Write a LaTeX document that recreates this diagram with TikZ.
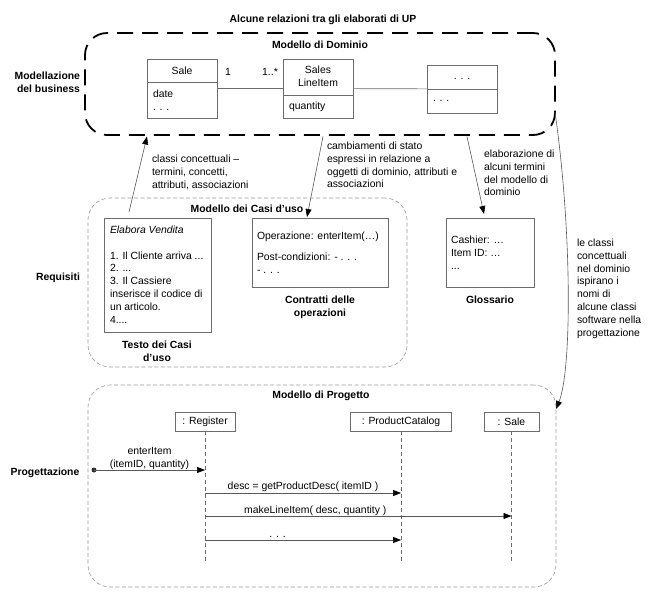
\documentclass[tikz,border=0pt]{standalone}
\usepackage{fontspec}
\setmainfont{Liberation Sans}
\usetikzlibrary{arrows.meta, positioning, calc}

\newcommand{\diagfont}{\fontsize{10.4}{12.8}\selectfont}

\begin{document}
\begin{tikzpicture}[
    x=1pt, y=-1pt,
    every node/.style={
        font=\diagfont,
        inner sep=0pt,
        outer sep=0pt
    },
    heading/.style={
        font=\diagfont\bfseries
    },
    domainframe/.style={
        draw=black,
        line width=1.8pt,
        dash pattern=on 16pt off 9pt,
        rounded corners=22pt
    },
    modelframe/.style={
        draw=gray!80,
        line width=0.6pt,
        dash pattern=on 4pt off 2.5pt,
        rounded corners=22pt
    },
    classbox/.style={
        draw=gray!85!black,
        line width=0.7pt
    },
    classline/.style={
        draw=gray!85!black,
        line width=0.7pt
    },
    docbox/.style={
        draw=gray!85!black,
        line width=0.7pt
    },
    objbox/.style={
        draw=gray!85!black,
        line width=0.7pt
    },
    assoc/.style={
        draw=gray!85!black,
        line width=0.7pt
    },
    lifeline/.style={
        draw=gray!85!black,
        line width=0.6pt,
        dash pattern=on 4pt off 3pt
    },
    flow/.style={
        draw=gray!70!black,
        line width=0.6pt,
        -{Triangle[length=8pt, width=6pt, color=black]}
    },
    message/.style={
        draw=gray!70!black,
        line width=0.7pt,
        -{Triangle[length=8pt, width=6pt, color=black]}
    }
]
\useasboundingbox (0,0) rectangle (649,598);

% Title
\node[heading] (title) at (323,20) {Alcune relazioni tra gli elaborati di UP};

% Domain model
\node[domainframe, minimum width=470pt, minimum height=102pt] (domain) at (320,84) {};
\node[heading] (domaintitle) at (320,45) {Modello di Dominio};
\node[heading, align=right, anchor=north east] (business) at (80,72) {Modellazione\\del business};

\node[classbox, minimum width=70pt, minimum height=59pt] (sale) at (182,88.5) {};
\draw[classline] ([yshift=-23pt]sale.north west) -- ([yshift=-23pt]sale.north east);
\node (salename) at (182,71) {Sale};
\node[align=left, anchor=north west] (saleattr) at (153,90) {date\\. . .};

\node[classbox, minimum width=70pt, minimum height=59pt] (lineitem) at (318,88.5) {};
\draw[classline] ([yshift=-36pt]lineitem.north west) -- ([yshift=-36pt]lineitem.north east);
\node[align=center, anchor=north] (lineitemname) at (318,66) {Sales\\LineItem};
\node[anchor=west] (lineitemattr) at (289,107) {quantity};

\node[classbox, minimum width=70pt, minimum height=48pt] (other) at (462,89) {};
\draw[classline] ([yshift=-24pt]other.north west) -- ([yshift=-24pt]other.north east);
\node (othername) at (462,78.5) {. . .};
\node[anchor=west] (otherattr) at (433,101) {. . .};

\draw[assoc] (sale) -- (lineitem);
\draw[assoc] (lineitem) -- (other);
\node (multone) at (228,72) {1};
\node (multmany) at (270,72) {1..*};

% Use case model
\node[modelframe, minimum width=319pt, minimum height=169pt] (usecases) at (247.5,282.5) {};
\node[heading] (usecasestitle) at (247,209) {Modello dei Casi d’uso};
\node[heading] (requirements) at (58,278) {Requisiti};

\node[docbox, minimum width=107pt, minimum height=114pt] (usetext) at (157.5,275) {};
\node[align=left, anchor=north west] (usetextbody) at (110,226) {\textit{Elabora Vendita}\\[12.8pt]1. Il Cliente arriva ...\\2. ...\\3. Il Cassiere\\inserisce il codice di\\un articolo.\\4....};
\node[heading, align=center, anchor=north] (usetextname) at (157,341) {Testo dei Casi\\d’uso};

\node[docbox, minimum width=136pt, minimum height=69pt] (contracts) at (320,252.5) {};
\node[align=left, anchor=north west] (contractsbody) at (257,232) {Operazione: enterItem(…)\\[8pt]Post-condizioni: - . . .\\- . . .};
\node[heading, align=center, anchor=north] (contractsname) at (320,296) {Contratti delle\\operazioni};

\node[docbox, minimum width=88pt, minimum height=69pt] (glossary) at (490,252.5) {};
\node[align=left, anchor=north west] (glossarybody) at (451,236) {Cashier: …\\Item ID: …\\...};
\node[heading] (glossaryname) at (490,300) {Glossario};

% Links between the artifacts
\draw[flow] ([xshift=-28.5pt, yshift=6pt]usetext.north) -- ([xshift=-173pt, yshift=-1.5pt]domain.south);
\node[align=left, anchor=north west] (conceptlabel) at (152,155) {classi concettuali –\\termini, concetti,\\attributi, associazioni};

\draw[flow] ([xshift=3pt, yshift=-1.5pt]domain.south) -- ([xshift=-13pt, yshift=1pt]contracts.north);
\node[align=left, anchor=north west] (changelabel) at (327,142) {cambiamenti di stato\\espressi in relazione a\\oggetti di dominio, attributi e\\associazioni};

\draw[flow] ([xshift=147pt, yshift=-1.5pt]domain.south) -- ([xshift=-6pt, yshift=4pt]glossary.north);
\node[align=left, anchor=north west] (termlabel) at (484,150) {elaborazione di\\alcuni termini\\del modello di\\dominio};

% Design model
\node[modelframe, minimum width=468pt, minimum height=202pt] (design) at (322,486) {};
\node[heading] (designtitle) at (321,396) {Modello di Progetto};
\node[heading] (designlabel) at (45,473) {Progettazione};

\draw[flow] ([yshift=-28pt]domain.east) .. controls (572,230) and (572,370) .. ([yshift=77pt]design.east);
\node[align=left, anchor=north west] (inspirelabel) at (577,239) {le classi\\concettuali\\nel dominio\\ispirano i\\nomi di\\alcune classi\\software nella\\progettazione};

\node[objbox, minimum width=60pt, minimum height=19pt] (register) at (205,421.5) {: Register};
\node[objbox, minimum width=101pt, minimum height=19pt] (catalog) at (401,421.5) {: ProductCatalog};
\node[objbox, minimum width=55pt, minimum height=19pt] (saleobj) at (511.5,421.5) {: Sale};

\draw[lifeline] (register.south) -- ([yshift=-132pt]register.south);
\draw[lifeline] (catalog.south) -- ([yshift=-132pt]catalog.south);
\draw[lifeline] (saleobj.south) -- ([yshift=-132pt]saleobj.south);

% Messages
\coordinate (found) at (94,470);
\fill[gray!40!black] (found) circle (2.5pt);
\draw[message] (found) -- node[above=0.5pt, align=center] (enterlabel) {enterItem\\(itemID, quantity)} (found -| register);
\draw[message] ([yshift=-62pt]register.south) -- node[above=1pt] (desclabel) {desc = getProductDesc( itemID )} ([yshift=-62pt]catalog.south);
\draw[message] ([yshift=-85pt]register.south) -- node[above=0.5pt, pos=0.36] (makelabel) {makeLineItem( desc, quantity )} ([yshift=-85pt]saleobj.south);
\draw[message] ([yshift=-109pt]register.south) -- node[above=2.5pt, pos=0.37] (morelabel) {. . .} ([yshift=-109pt]catalog.south);

\end{tikzpicture}
\end{document}
